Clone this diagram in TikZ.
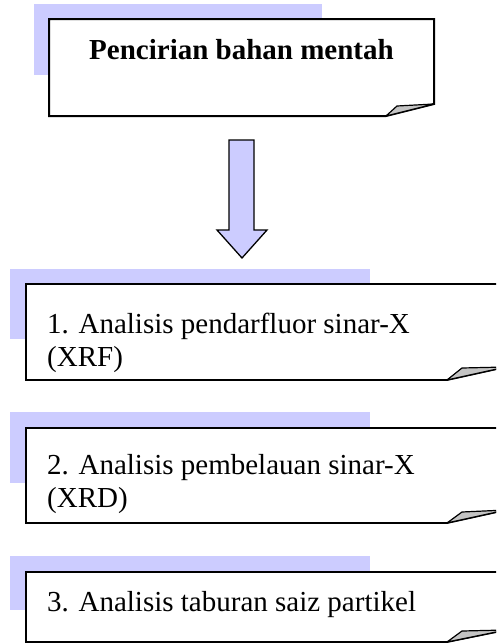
\documentclass[tikz,border=0pt]{standalone}
\usepackage{fontspec}
\setmainfont{Liberation Serif}
\definecolor{lav}{HTML}{CCCCFF}
\definecolor{foldgray}{HTML}{C4C4C4}
\begin{document}
\begin{tikzpicture}[x=1pt,y=-1pt,
  backpanel/.style={fill=lav, draw=none},
  card/.style={fill=white, draw=black, line width=1.8pt, line join=miter},
  foldtri/.style={fill=foldgray, draw=black, line width=1.2pt, line join=round},
  lbl/.style={inner sep=0pt, font=\fontsize{29}{33}\selectfont, align=left},
  blockarrow/.style={fill=lav, draw=black, line width=1.3pt, line join=miter},
]
\useasboundingbox (0,0) rectangle (496,643);
\begin{scope}
\clip (0,0) rectangle (496,643);
% top box
\fill[backpanel] (34,4) rectangle (322,75);
\draw[card, line width=2pt] (49,19) -- (434,19) -- (434,104) -- (386,116) -- (49,116) -- cycle;
\draw[foldtri] (386,116) -- (397,106) -- (434,104) -- cycle;
\node[lbl, font=\bfseries\fontsize{29}{33}\selectfont, anchor=base] (t0) at (241.5,59) {Pencirian bahan mentah};

% block arrow
\draw[blockarrow] (229,140) -- (254,140) -- (254,230) -- (267,230) -- (242,258) -- (217,230) -- (229,230) -- cycle;

% box 1
\fill[backpanel] (10,269) rectangle (370,339);
\draw[card] (26,284) -- (506,284) -- (506,367) -- (447,380) -- (26,380) -- cycle;
\draw[foldtri] (447,380) -- (462,368) -- (506,367) -- cycle;
\node[lbl, anchor=base west] (t1) at (47,366) {1. Analisis pendarfluor sinar-X\\(XRF)};

% box 2
\fill[backpanel] (10,412) rectangle (370,483);
\draw[card] (26,428) -- (506,428) -- (506,510) -- (447,523) -- (26,523) -- cycle;
\draw[foldtri] (447,523) -- (462,512) -- (506,510) -- cycle;
\node[lbl, anchor=base west] (t2) at (47,507) {2. Analisis pembelauan sinar-X\\(XRD)};

% box 3
\fill[backpanel] (10,556) rectangle (370,610);
\draw[card] (26,572) -- (506,572) -- (506,630) -- (447,642) -- (26,642) -- cycle;
\draw[foldtri] (447,642) -- (462,631) -- (506,630) -- cycle;
\node[lbl, anchor=base west] (t3) at (47,611) {3. Analisis taburan saiz partikel};
\end{scope}
\end{tikzpicture}
\end{document}
